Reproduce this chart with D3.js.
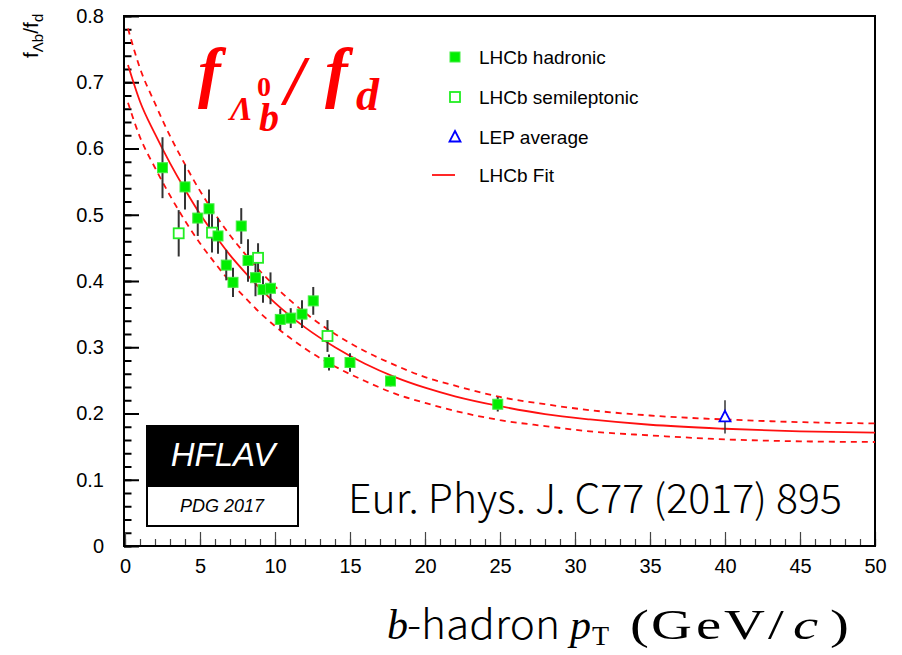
<!DOCTYPE html>
<html>
<head>
<meta charset="utf-8">
<script src="https://cdn.jsdelivr.net/npm/d3@7"></script>
<style>
  body { margin: 0; background: #fff; }
  svg { display: block; }
</style>
</head>
<body>
<div id="chart"></div>
<script>
// LHCb hadronic points: pT, value, error
var hadPt  = [2.5, 4.0, 4.85, 5.6, 6.2, 6.75, 7.2, 7.75, 8.2, 8.7, 9.2, 9.7, 10.35, 11.05, 11.8, 12.55, 13.6, 15.0, 17.7, 24.85];
var hadVal = [0.571, 0.542, 0.495, 0.509, 0.468, 0.424, 0.398, 0.483, 0.431, 0.405, 0.387, 0.389, 0.342, 0.344, 0.350, 0.370, 0.277, 0.277, 0.249, 0.214];
var hadErr = [0.046, 0.034, 0.027, 0.029, 0.027, 0.023, 0.022, 0.027, 0.032, 0.028, 0.020, 0.024, 0.016, 0.015, 0.021, 0.021, 0.012, 0.014, 0.008, 0.011];

// LHCb semileptonic points
var semiPt  = [3.58, 5.8, 8.87, 13.5];
var semiVal = [0.472, 0.473, 0.435, 0.317];
var semiErr = [0.035, 0.030, 0.022, 0.024];

// LEP average
var lepPt  = [40];
var lepVal = [0.195];
var lepErr = [0.025];

// LHCb fit, central and band
var fitPt  = [0.2, 1, 2, 3, 4, 5, 6, 7, 8, 9, 10, 12, 14, 16, 18, 20, 22, 25, 28, 31, 35, 40, 45, 50];
var fitVal = [0.726, 0.671, 0.622, 0.578, 0.538, 0.501, 0.469, 0.439, 0.413, 0.389, 0.367, 0.330, 0.300, 0.275, 0.255, 0.239, 0.226, 0.211, 0.199, 0.191, 0.183, 0.177, 0.173, 0.171];
var fitHi  = [0.781, 0.721, 0.668, 0.619, 0.576, 0.536, 0.501, 0.469, 0.441, 0.415, 0.392, 0.352, 0.320, 0.294, 0.273, 0.255, 0.242, 0.225, 0.214, 0.205, 0.197, 0.191, 0.187, 0.185];
var fitLo  = [0.669, 0.617, 0.571, 0.529, 0.491, 0.457, 0.427, 0.399, 0.375, 0.352, 0.332, 0.298, 0.271, 0.249, 0.230, 0.216, 0.204, 0.190, 0.181, 0.173, 0.167, 0.161, 0.158, 0.157];

var xTicks = [0, 5, 10, 15, 20, 25, 30, 35, 40, 45, 50];
var yTicks = [0, 0.1, 0.2, 0.3, 0.4, 0.5, 0.6, 0.7, 0.8];
var yTickLabels = ["0", "0.1", "0.2", "0.3", "0.4", "0.5", "0.6", "0.7", "0.8"];
var legendLabels = ["LHCb hadronic", "LHCb semileptonic", "LEP average", "LHCb Fit"];

var W = 902, H = 655;
var mLeft = 124, mRight = 875, mTop = 16, mBottom = 546;

var svg = d3.select("#chart").append("svg")
    .attr("width", W)
    .attr("height", H);

var x = d3.scaleLinear().domain([0, 50]).range([mLeft + 1, mRight]);
var y = d3.scaleLinear().domain([0, 0.8]).range([mBottom, mTop]);

var sans = "'Liberation Sans', Arial, sans-serif";
var serif = "'Liberation Serif', 'Times New Roman', serif";
var cjk = "'Noto Sans CJK SC', 'Noto Sans', sans-serif";

// minor ticks
svg.append("g")
    .attr("transform", "translate(" + mLeft + ",0)")
    .call(d3.axisLeft(y).tickValues(d3.range(0, 0.801, 0.02)).tickSize(-7.5).tickFormat(""))
    .call(function(g) { g.select(".domain").remove(); })
    .selectAll("line").attr("stroke", "#000").attr("stroke-width", 2);

svg.append("g")
    .attr("transform", "translate(0," + mBottom + ")")
    .call(d3.axisBottom(x).tickValues(d3.range(0, 51, 1)).tickSize(-7).tickFormat(""))
    .call(function(g) { g.select(".domain").remove(); })
    .selectAll("line").attr("stroke", "#444").attr("stroke-width", 1.2);

// major ticks + labels
var yAxis = svg.append("g")
    .attr("transform", "translate(" + mLeft + ",0)")
    .call(d3.axisLeft(y).tickValues(yTicks).tickSize(-15).tickPadding(20)
      .tickFormat(function(d, i) { return yTickLabels[i]; }));
yAxis.select(".domain").remove();
yAxis.selectAll("line").attr("stroke", "#000").attr("stroke-width", 2);
yAxis.selectAll("text").style("font-family", sans).style("font-size", "20px").attr("fill", "#000");

var xAxis = svg.append("g")
    .attr("transform", "translate(0," + mBottom + ")")
    .call(d3.axisBottom(x).tickValues(xTicks).tickSize(-14).tickPadding(13));
xAxis.select(".domain").remove();
xAxis.selectAll("line").attr("stroke", "#444").attr("stroke-width", 1.2);
xAxis.selectAll("text").style("font-family", sans).style("font-size", "20px").attr("fill", "#000");

// frame
svg.append("rect")
    .attr("x", mLeft).attr("y", mTop)
    .attr("width", mRight - mLeft).attr("height", mBottom - mTop)
    .attr("fill", "none").attr("stroke", "#000").attr("stroke-width", 2);

// fit curves
var line = function(vals) {
  return d3.line()
    .x(function(d, i) { return x(fitPt[i]); })
    .y(function(d) { return y(d); })
    .curve(d3.curveMonotoneX)(vals);
};
svg.append("path").attr("d", line(fitHi)).attr("fill", "none")
    .attr("stroke", "#ff1010").attr("stroke-width", 1.8).attr("stroke-dasharray", "6,5");
svg.append("path").attr("d", line(fitLo)).attr("fill", "none")
    .attr("stroke", "#ff1010").attr("stroke-width", 1.8).attr("stroke-dasharray", "6,5");
svg.append("path").attr("d", line(fitVal)).attr("fill", "none")
    .attr("stroke", "#ff1010").attr("stroke-width", 1.8);

// error bars
function errBars(pt, val, err, col, w) {
  svg.append("g").selectAll("line")
    .data(pt)
    .enter().append("line")
    .attr("x1", function(d) { return x(d); })
    .attr("x2", function(d) { return x(d); })
    .attr("y1", function(d, i) { return y(val[i] - err[i]); })
    .attr("y2", function(d, i) { return y(val[i] + err[i]); })
    .attr("stroke", col).attr("stroke-width", w);
}
errBars(hadPt, hadVal, hadErr, "#333", 2);
errBars(semiPt, semiVal, semiErr, "#333", 2);
errBars(lepPt, lepVal, lepErr, "#333", 1.5);

var s = 10;
// semileptonic (open squares)
svg.append("g").selectAll("rect")
    .data(semiPt)
    .enter().append("rect")
    .attr("x", function(d) { return x(d) - s / 2; })
    .attr("y", function(d, i) { return y(semiVal[i]) - s / 2; })
    .attr("width", s).attr("height", s)
    .attr("fill", "#fff").attr("stroke", "#22ee22").attr("stroke-width", 1.8);

// hadronic (filled squares)
svg.append("g").selectAll("rect")
    .data(hadPt)
    .enter().append("rect")
    .attr("x", function(d) { return x(d) - s / 2; })
    .attr("y", function(d, i) { return y(hadVal[i]) - s / 2; })
    .attr("width", s).attr("height", s)
    .attr("fill", "#00ee00").attr("stroke", "#44ee44").attr("stroke-width", 1);

// LEP triangle
var tri = function(cx, cy) {
  return "M" + cx + "," + (cy - 6) + "L" + (cx + 5.5) + "," + (cy + 4.5) + "L" + (cx - 5.5) + "," + (cy + 4.5) + "Z";
};
svg.append("g").selectAll("path")
    .data(lepPt)
    .enter().append("path")
    .attr("d", function(d, i) { return tri(x(d), y(lepVal[i])); })
    .attr("fill", "#fff").attr("stroke", "#0000ff").attr("stroke-width", 1.8);

// legend
var lx = 455, ly = [57, 97, 137, 175];
svg.append("rect").attr("x", lx - 5).attr("y", ly[0] - 5).attr("width", 10).attr("height", 10)
    .attr("fill", "#00ee00").attr("stroke", "#44ee44");
svg.append("rect").attr("x", lx - 5).attr("y", ly[1] - 5).attr("width", 10).attr("height", 10)
    .attr("fill", "#fff").attr("stroke", "#22ee22").attr("stroke-width", 1.8);
svg.append("path").attr("d", tri(lx, ly[2])).attr("fill", "#fff")
    .attr("stroke", "#0000ff").attr("stroke-width", 1.8);
svg.append("line").attr("x1", 432).attr("x2", 455).attr("y1", ly[3]).attr("y2", ly[3])
    .attr("stroke", "#ff1010").attr("stroke-width", 1.8);
svg.append("g").selectAll("text")
    .data(legendLabels)
    .enter().append("text")
    .attr("x", 479)
    .attr("y", function(d, i) { return ly[i] + 7; })
    .style("font-family", sans).style("font-size", "19px")
    .text(function(d) { return d; });

// y axis title
var yt = svg.append("text")
    .attr("transform", "translate(38,58) rotate(-90)")
    .style("font-family", sans).style("font-size", "21px");
yt.append("tspan").text("f");
yt.append("tspan").attr("dy", 5).style("font-size", "15px").text("\u039Bb");
yt.append("tspan").attr("dy", -5).text("/f");
yt.append("tspan").attr("dy", 5).style("font-size", "15px").text("d");

// big red title
var title = [
  {t: "f", x: 198, y: 95, s: 68, it: true},
  {t: "\u039B", x: 230, y: 120, s: 34, it: true},
  {t: "0", x: 257, y: 96, s: 28, it: false},
  {t: "b", x: 259, y: 131, s: 40, it: true},
  {t: "/", x: 285, y: 104, s: 70, it: true},
  {t: "f", x: 325, y: 95, s: 68, it: true},
  {t: "d", x: 356, y: 110, s: 46, it: true}
];
svg.append("g").selectAll("text")
    .data(title)
    .enter().append("text")
    .attr("x", function(d) { return d.x; })
    .attr("y", function(d) { return d.y; })
    .style("font-family", serif).style("font-weight", "bold")
    .style("font-style", function(d) { return d.it ? "italic" : "normal"; })
    .style("font-size", function(d) { return d.s + "px"; })
    .attr("fill", "#ff0000")
    .text(function(d) { return d.t; });

// HFLAV box
svg.append("rect").attr("x", 146).attr("y", 425).attr("width", 153).attr("height", 61).attr("fill", "#000");
svg.append("rect").attr("x", 147).attr("y", 486).attr("width", 151).attr("height", 40)
    .attr("fill", "#fff").attr("stroke", "#000").attr("stroke-width", 2);
svg.append("text").attr("x", 223).attr("y", 466).attr("text-anchor", "middle")
    .style("font-family", sans).style("font-style", "italic").style("font-size", "33px")
    .attr("fill", "#fff").text("HFLAV");
svg.append("text").attr("x", 222).attr("y", 512).attr("text-anchor", "middle")
    .style("font-family", sans).style("font-style", "italic").style("font-size", "18px")
    .attr("fill", "#000").text("PDG 2017");

// reference
svg.append("text").attr("x", 348).attr("y", 513)
    .attr("textLength", 494).attr("lengthAdjust", "spacingAndGlyphs")
    .style("font-family", cjk).style("font-weight", 300)
    .style("font-size", "40px").attr("fill", "#000")
    .text("Eur. Phys. J. C77 (2017) 895");

// x axis title
var xb = 639;
svg.append("text").attr("x", 387).attr("y", xb)
    .style("font-family", serif).style("font-style", "italic").style("font-size", "42px")
    .text("b");
svg.append("text").attr("x", 407).attr("y", xb)
    .attr("textLength", 153).attr("lengthAdjust", "spacingAndGlyphs")
    .style("font-family", cjk).style("font-weight", 300).style("font-size", "40px")
    .text("-hadron");
svg.append("text").attr("x", 570).attr("y", xb)
    .style("font-family", serif).style("font-style", "italic").style("font-size", "42px")
    .text("p");
svg.append("text").attr("x", 592).attr("y", xb + 6)
    .style("font-family", serif).style("font-size", "28px")
    .text("T");
var unitChars = [
  {t: "(", x: 630, it: false},
  {t: "G", x: 651, it: false},
  {t: "e", x: 696, it: false},
  {t: "V", x: 724, it: false},
  {t: "/", x: 768, it: false},
  {t: "c", x: 793, it: true},
  {t: ")", x: 830, it: false}
];
svg.append("g").selectAll("text")
    .data(unitChars)
    .enter().append("text")
    .attr("transform", function(d) { return "translate(" + d.x + "," + xb + ") scale(1.35,1)"; })
    .style("font-family", serif).style("font-size", "42px")
    .style("font-style", function(d) { return d.it ? "italic" : "normal"; })
    .text(function(d) { return d.t; });
</script>
</body>
</html>
